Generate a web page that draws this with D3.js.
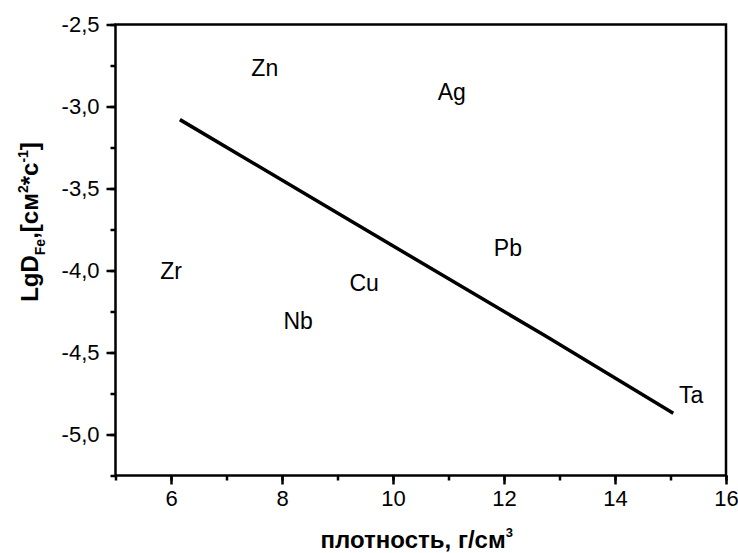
<!DOCTYPE html>
<html>
<head>
<meta charset="utf-8">
<script src="https://cdn.jsdelivr.net/npm/d3@7"></script>
<style>
  body { margin: 0; background: white; }
  text { font-family: Arial, "Liberation Sans", sans-serif; fill: black; }
</style>
</head>
<body>
<div id="chart"></div>
<script>
// data
var fitX = [6.16, 9.25, 12.75, 15.05];
var fitY = [-3.08, -3.70, -4.40, -4.87];
var elements = ["Zn", "Ag", "Pb", "Zr", "Cu", "Nb", "Ta"];
var elemX = [7.69, 11.06, 12.07, 6.0, 9.48, 8.29, 15.37];
var elemY = [-2.765, -2.91, -3.86, -4.0, -4.076, -4.31, -4.76];
var xTicks = [6, 8, 10, 12, 14, 16];
var yTicks = [-2.5, -3.0, -3.5, -4.0, -4.5, -5.0];

var W = 738, H = 553;
var margin = {top: 24.5, right: 12, bottom: 77.5, left: 115.5},
    width = W - margin.left - margin.right,
    height = H - margin.top - margin.bottom;

var svg = d3.select("#chart").append("svg")
    .attr("width", W)
    .attr("height", H)
  .append("g")
    .attr("transform", "translate(" + margin.left + "," + margin.top + ")");

var x = d3.scaleLinear().domain([5, 16]).range([0, width]);
var y = d3.scaleLinear().domain([-5.25, -2.5]).range([height, 0]);

var fmt = function(d) { return d3.format(".1f")(d).replace(".", ",").replace("−", "-"); };

// minor ticks
svg.append("g")
  .attr("transform", "translate(0," + height + ")")
  .call(d3.axisBottom(x).tickValues(d3.range(5, 16.01, 1)).tickSize(5).tickFormat(""))
  .call(function(g) { g.select(".domain").remove(); g.selectAll("line").attr("stroke-width", 2.5); });
svg.append("g")
  .call(d3.axisLeft(y).tickValues(d3.range(-5.25, -2.49, 0.25)).tickSize(5).tickFormat(""))
  .call(function(g) { g.select(".domain").remove(); g.selectAll("line").attr("stroke-width", 2.5); });

// major ticks with labels
var xa = svg.append("g")
  .attr("transform", "translate(0," + height + ")")
  .call(d3.axisBottom(x).tickValues(xTicks).tickSize(9).tickPadding(6).tickFormat(d3.format("d")));
xa.select(".domain").remove();
xa.selectAll("line").attr("stroke-width", 2.5);
xa.selectAll("text").style("font-size", "22px");

var ya = svg.append("g")
  .call(d3.axisLeft(y).tickValues(yTicks).tickSize(9).tickPadding(7).tickFormat(fmt));
ya.select(".domain").remove();
ya.selectAll("line").attr("stroke-width", 2.5);
ya.selectAll("text").style("font-size", "22px");

// frame
svg.append("rect")
  .attr("x", 0).attr("y", 0)
  .attr("width", width).attr("height", height)
  .attr("fill", "none")
  .attr("stroke", "black")
  .attr("stroke-width", 2.5);

// fitted line
var pts = fitX.map(function(d, i) { return [d, fitY[i]]; });
svg.append("path")
  .datum(pts)
  .attr("fill", "none")
  .attr("stroke", "black")
  .attr("stroke-width", 3.5)
  .attr("d", d3.line().x(function(d) { return x(d[0]); }).y(function(d) { return y(d[1]); }));

// element labels
svg.selectAll(".elem")
  .data(elements)
  .enter().append("text")
  .attr("class", "elem")
  .attr("x", function(d, i) { return x(elemX[i]); })
  .attr("y", function(d, i) { return y(elemY[i]); })
  .attr("text-anchor", "middle")
  .attr("dy", "0.35em")
  .style("font-size", "23px")
  .text(function(d) { return d; });

// axis titles
var xt = svg.append("text")
  .attr("x", width / 2 - 4)
  .attr("y", height + 72)
  .attr("text-anchor", "middle")
  .style("font-size", "24px")
  .style("font-weight", "bold");
xt.append("tspan").text("плотность, г/см");
xt.append("tspan").attr("dy", -11).style("font-size", "13px").text("3");

var yt = svg.append("text")
  .attr("transform", "translate(" + (-78) + "," + 197.5 + ") rotate(-90)")
  .attr("text-anchor", "middle")
  .style("font-size", "24px")
  .style("font-weight", "bold");
yt.append("tspan").text("LgD");
yt.append("tspan").attr("dy", 7).style("font-size", "14px").text("Fe");
yt.append("tspan").attr("dy", -7).text(",[см");
yt.append("tspan").attr("dy", -10).style("font-size", "14px").text("2");
yt.append("tspan").attr("dy", 10).text("*с");
yt.append("tspan").attr("dy", -10).style("font-size", "14px").text("-1");
yt.append("tspan").attr("dy", 10).text("]");
</script>
</body>
</html>
